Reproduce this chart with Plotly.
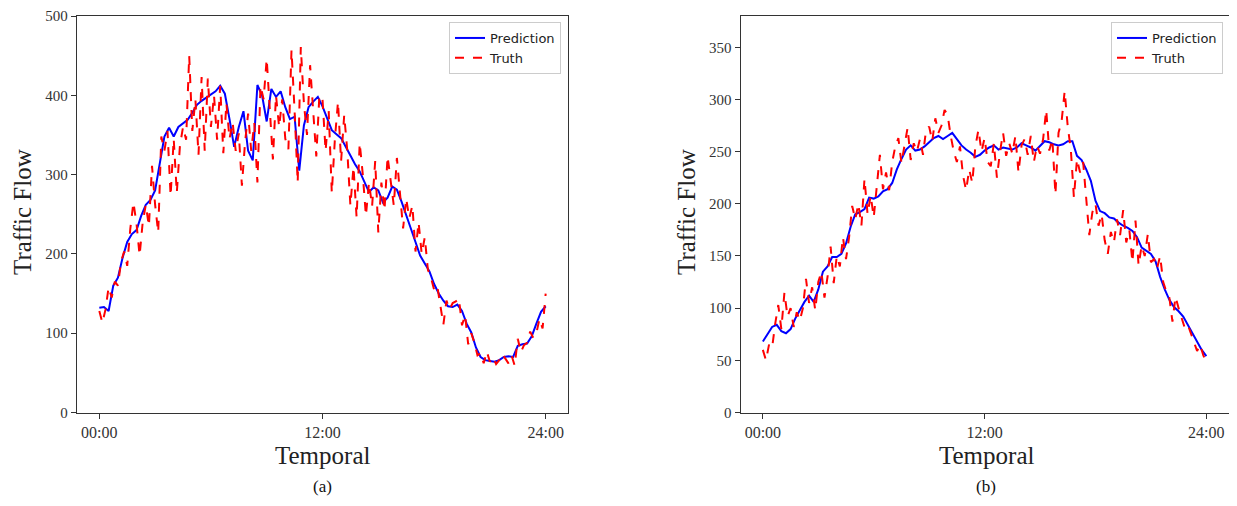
import plotly.graph_objects as go

# time grids (hours)
t_truth = [i / 6 for i in range(145)]   # 10 min steps
t_pred = [i / 4 for i in range(97)]     # 15 min steps

tick_hours = [0, 12, 24]
tick_labels = ["00:00", "12:00", "24:00"]

# (a) left panel
pred_a = [132, 133, 128, 160, 170, 195, 215, 225, 230, 248, 262, 268,
          280, 312, 348, 359, 348, 360, 364, 369, 378, 388, 393, 397,
          400, 405, 412, 402, 370, 335, 360, 380, 330, 318, 413, 400,
          367, 408, 398, 405, 385, 370, 373, 305, 362, 385, 392, 398,
          386, 370, 356, 351, 346, 335, 324, 313, 304, 292, 278, 284,
          280, 265, 271, 285, 281, 266, 250, 232, 215, 198, 188, 178,
          162, 150, 141, 134, 133, 136, 128, 112, 101, 82, 70, 66,
          65, 64, 66, 70, 71, 70, 84, 86, 87, 96, 112, 127, 134]

truth_a = [128, 113, 130, 158, 145, 165,
           160, 190, 203, 185, 232, 265,
           238, 198, 240, 262, 235, 311,
           262, 227, 348, 330, 355, 273,
           345, 277, 336, 360, 344, 450,
           355, 395, 325, 423, 330, 421,
           360, 400, 344, 412, 327, 390,
           345, 366, 330, 352, 286, 340,
           377, 330, 365, 290, 412, 395,
           446, 380, 319, 400, 360, 395,
           345, 332, 457, 380, 290, 461,
           390, 350, 438, 380, 323, 400,
           395, 330, 380, 277, 345, 392,
           317, 375, 330, 261, 310, 246,
           340, 300, 248, 290, 260, 317,
           227, 290, 255, 323, 290, 261,
           321, 275, 232, 270, 245, 261,
           203, 240, 200, 221, 180, 170,
           155, 160, 135, 111, 141, 130,
           138, 140, 144, 110, 123, 86,
           100, 88, 72, 75, 62, 77,
           64, 70, 61, 66, 74, 68,
           62, 72, 59, 93, 76, 85,
           88, 102, 94, 100, 118, 106,
           150]

# (b) right panel
pred_b = [68, 75, 82, 84, 78, 76, 80, 90, 98, 106, 112, 106,
          118, 135, 140, 149, 149, 152, 162, 178, 190, 192, 195, 206,
          205, 207, 212, 214, 220, 233, 243, 252, 256, 251, 252, 255,
          259, 263, 265, 262, 265, 268, 262, 256, 252, 249, 245, 247,
          251, 254, 256, 252, 254, 253, 252, 254, 258, 256, 254, 251,
          256, 260, 259, 257, 256, 257, 260, 260, 246, 242, 233, 222,
          203, 193, 191, 187, 186, 182, 179, 177, 174, 168, 158, 155,
          152, 145, 130, 118, 108, 101, 97, 92, 84, 75, 67, 60, 54]

truth_b = [60, 50, 65, 62, 85, 103,
           80, 115, 92, 100, 82, 96,
           88, 100, 128, 105, 120, 98,
           125, 135, 110, 130, 159, 124,
           150, 140, 168, 147, 168, 198,
           185, 200, 179, 224, 190, 208,
           187, 215, 247, 214, 230, 213,
           240, 255, 263, 239, 258, 273,
           242, 258, 250, 262, 247, 271,
           274, 260, 282, 268, 275, 290,
           285, 265, 250, 240, 255, 227,
           213, 233, 220, 255, 271, 250,
           263, 240, 236, 258, 225, 250,
           268, 246, 258, 248, 265, 230,
           256, 262, 247, 265, 240, 256,
           248, 262, 290, 251, 262, 209,
           268, 279, 308, 274, 252, 206,
           243, 230, 240, 202, 170, 192,
           200, 179, 190, 165, 152, 173,
           163, 185, 170, 194, 163, 175,
           144, 184, 141, 160, 150, 171,
           144, 147, 138, 150, 125, 116,
           110, 87, 111, 100, 91, 81,
           84, 75, 68, 59, 65, 55,
           48]

# the page adds an 8px margin round the figure, so keep it inside the window
OFF = 8
W, H = 1237 - 2 * OFF, 506 - 2 * OFF


def px(sx):
    return min(1.0, max(0.0, (sx - OFF) / W))


def py(sy):
    return min(1.0, max(0.0, 1 - (sy - OFF) / H))


serif = "Liberation Serif, Times New Roman, serif"
sans = "DejaVu Sans, sans-serif"

fig = go.Figure()

fig.add_trace(go.Scatter(x=t_pred, y=pred_a, mode="lines", name="Prediction",
                         line=dict(color="#0000ff", width=2), xaxis="x", yaxis="y",
                         legend="legend"))
fig.add_trace(go.Scatter(x=t_truth, y=truth_a, mode="lines", name="Truth",
                         line=dict(color="#ff0000", width=2, dash="dash"), xaxis="x", yaxis="y",
                         legend="legend"))
fig.add_trace(go.Scatter(x=t_pred, y=pred_b, mode="lines", name="Prediction",
                         line=dict(color="#0000ff", width=2), xaxis="x2", yaxis="y2",
                         legend="legend2"))
fig.add_trace(go.Scatter(x=t_truth, y=truth_b, mode="lines", name="Truth",
                         line=dict(color="#ff0000", width=2, dash="dash"), xaxis="x2", yaxis="y2",
                         legend="legend2"))

# top nudged down a little so the "500" label is not cut by the page edge
ydom = [py(412.5), py(16)]
common_x = dict(range=[-1.2, 25.2], tickvals=tick_hours, ticktext=tick_labels,
                showline=True, mirror=True, linecolor="#333", linewidth=1.3,
                ticks="outside", ticklen=5, tickcolor="#333", showgrid=False,
                zeroline=False, automargin=False, ticklabeloverflow="allow",
                tickfont=dict(family=serif, size=16, color="#333"))
common_y = dict(showline=True, mirror=True, linecolor="#333", linewidth=1.3,
                ticks="outside", ticklen=5, tickcolor="#333", showgrid=False,
                zeroline=False, automargin=False, ticklabeloverflow="allow",
                tickfont=dict(family=serif, size=15, color="#333"))

legend_style = dict(font=dict(family=sans, size=13, color="#222"),
                    bgcolor="rgba(255,255,255,0.9)", bordercolor="#cccccc", borderwidth=1,
                    xanchor="right", yanchor="top", tracegroupgap=0)

fig.update_layout(
    width=W, height=H,
    margin=dict(l=0, r=0, t=0, b=0, autoexpand=False),
    paper_bgcolor="white", plot_bgcolor="white",
    xaxis=dict(domain=[px(77), px(568)], anchor="y", **common_x),
    yaxis=dict(domain=ydom, anchor="x", range=[0, 500], dtick=100, **common_y),
    xaxis2=dict(domain=[px(740.7), px(1228.5)], anchor="y2", **common_x),
    yaxis2=dict(domain=ydom, anchor="x2", range=[0, 380],
                tickvals=[0, 50, 100, 150, 200, 250, 300, 350], **common_y),
    legend=dict(x=px(561), y=py(22), **legend_style),
    legend2=dict(x=px(1223), y=py(22), **legend_style),
    showlegend=True,
)

title_font = dict(family=serif, size=25, color="#222")
for xc in [322, 986]:
    fig.add_annotation(x=px(xc), y=py(455), xref="paper", yref="paper",
                       xanchor="center", yanchor="middle",
                       text="Temporal", showarrow=False, font=title_font)
for xc in [22, 686]:
    fig.add_annotation(x=px(xc), y=py(212), xref="paper", yref="paper",
                       xanchor="center", yanchor="middle",
                       text="Traffic Flow", textangle=-90, showarrow=False, font=title_font)
for xc, txt in [(322, "(a)"), (986, "(b)")]:
    fig.add_annotation(x=px(xc), y=0, xref="paper", yref="paper",
                       xanchor="center", yanchor="bottom",
                       text=txt, showarrow=False, font=dict(family=serif, size=17, color="#111"))

fig.write_html("out.html")
